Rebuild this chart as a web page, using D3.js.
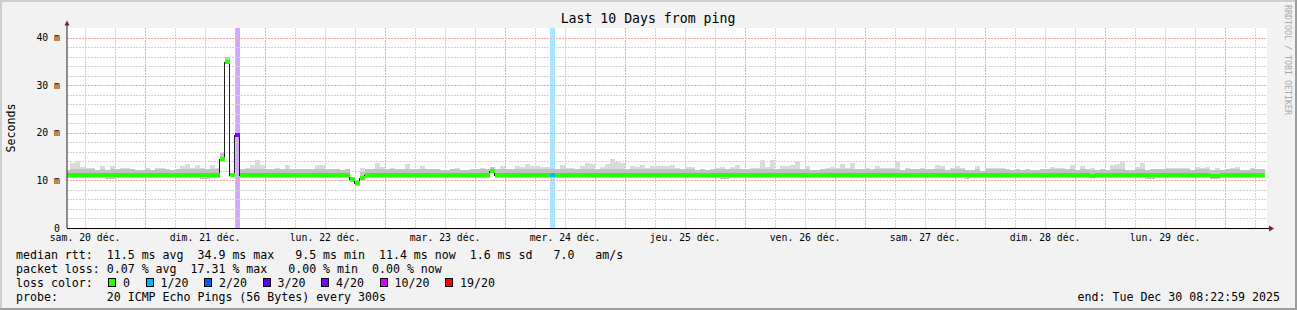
<!DOCTYPE html>
<html>
<head>
<meta charset="utf-8">
<script src="https://cdn.jsdelivr.net/npm/d3@7"></script>
<style>
  html, body { margin: 0; padding: 0; background: #f2f2f2; }
  svg { display: block; }
  text { font-family: "DejaVu Sans Mono", monospace; fill: #000; }
</style>
</head>
<body>
<svg id="chart" width="1297" height="310"></svg>
<script>
const title = "Last 10 Days from ping";
const yLabel = "Seconds";
const watermark = "RRDTOOL / TOBI OETIKER";
const startTime = new Date(2025, 11, 20, 8, 22, 59);
const endTime = new Date(2025, 11, 30, 8, 22, 59);
const firstStepEnd = new Date(2025, 11, 20, 9, 0, 0);   // hourly consolidated steps

const dayLabels = ["sam. 20 déc.", "dim. 21 déc.", "lun. 22 déc.", "mar. 23 déc.", "mer. 24 déc.",
                   "jeu. 25 déc.", "ven. 26 déc.", "sam. 27 déc.", "dim. 28 déc.", "lun. 29 déc."];
const yTicks = [0, 10, 20, 30, 40];
const yTickLabels = ["0", "10 m", "20 m", "30 m", "40 m"];

// median rtt per hour (ms)
const median = [
  11.2, 11.2, 11.2, 11.2, 11.2, 11.2, 11.2, 11.2, 11.1, 11.2, 11.2, 11.2, 11.2, 11.2, 11.2, 11.2, 11.2, 11.2, 11.2, 11.2,
  11.2, 11.1, 11.2, 11.2, 11.2, 11.2, 11.2, 11.2, 11.2, 11.2, 11.2, 14.4, 34.9, 11.2, 19.5, 11.2, 11.1, 11.2, 11.2, 11.2,
  11.2, 11.2, 11.2, 11.2, 11.2, 11.2, 11.2, 11.2, 11.2, 11.2, 11.2, 11.2, 11.2, 11.2, 11.2, 11.2, 11.2, 10.2, 9.5, 10.5,
  11.2, 11.2, 11.2, 11.2, 11.2, 11.2, 11.2, 11.2, 11.2, 11.2, 11.2, 11.2, 11.2, 11.2, 11.2, 11.2, 11.2, 11.2, 11.2, 11.2,
  11.2, 11.2, 11.2, 11.2, 11.2, 11.9, 11.2, 11.2, 11.2, 11.2, 11.2, 11.2, 11.2, 11.2, 11.2, 11.2, 11.2, 11.2, 11.2, 11.2,
  11.2, 11.2, 11.2, 11.2, 11.2, 11.2, 11.2, 11.2, 11.2, 11.2, 11.2, 11.2, 11.2, 11.2, 11.2, 11.2, 11.2, 11.2, 11.2, 11.2,
  11.2, 11.2, 11.2, 11.2, 11.2, 11.2, 11.2, 11.2, 11.2, 11.2, 11.2, 11.2, 11.2, 11.2, 11.2, 11.2, 11.2, 11.2, 11.2, 11.2,
  11.2, 11.2, 11.2, 11.2, 11.2, 11.2, 11.2, 11.2, 11.2, 11.2, 11.2, 11.2, 11.2, 11.2, 11.2, 11.2, 11.2, 11.2, 11.2, 11.2,
  11.2, 11.2, 11.2, 11.2, 11.2, 11.2, 11.2, 11.2, 11.2, 11.2, 11.2, 11.2, 11.2, 11.2, 11.2, 11.2, 11.2, 11.2, 11.2, 11.2,
  11.2, 11.2, 11.2, 11.2, 11.2, 11.2, 11.2, 11.2, 11.2, 11.2, 11.2, 11.2, 11.2, 11.2, 11.2, 11.2, 11.2, 11.2, 11.2, 11.2,
  11.2, 11.2, 11.2, 11.2, 11.2, 10.9, 11.2, 11.2, 11.2, 11.2, 11.2, 11.2, 11.2, 11.2, 11.2, 11.2, 11.2, 11.2, 11.2, 11.2,
  11.2, 11.2, 11.2, 11.2, 11.2, 11.2, 11.2, 11.2, 11.2, 11.0, 11.0, 11.2, 11.2, 11.2, 11.2, 11.2, 11.2, 11.2, 11.2, 11.2
];

// highest ping of each hour (ms)
const smokeHi = [
  12.1, 13.7, 13.9, 12.9, 12.6, 12.5, 12.25, 13.0, 12.25, 13.0, 12.4, 12.6, 12.6, 12.3, 12.2, 12.2, 12.7, 12.2, 12.7, 12.6,
  12.4, 12.25, 12.4, 13.0, 13.4, 12.7, 13.2, 12.7, 12.3, 13.3, 12.5, 16.0, 36.0, 11.5, 19.7, 12.3, 12.7, 13.2, 14.3, 13.2,
  12.3, 12.4, 12.7, 12.4, 13.2, 12.4, 12.3, 12.4, 12.4, 12.3, 13.2, 13.2, 12.4, 12.3, 12.3, 12.2, 12.3, 10.8, 10.1, 12.5,
  12.3, 12.3, 13.65, 12.75, 12.3, 12.6, 12.45, 12.3, 13.45, 12.3, 12.3, 13.0, 12.3, 12.4, 12.4, 12.2, 12.2, 12.3, 12.6, 12.2,
  12.2, 12.3, 12.3, 12.6, 12.3, 12.8, 12.3, 13.0, 12.3, 12.3, 13.0, 12.8, 13.45, 13.0, 13.0, 12.75, 12.75, 12.3, 12.3, 13.2,
  12.6, 12.6, 12.3, 13.0, 13.6, 13.45, 12.3, 12.9, 13.45, 14.5, 13.9, 13.7, 12.3, 13.0, 12.9, 13.15, 12.6, 13.0, 13.0, 13.0,
  13.0, 13.3, 12.5, 12.3, 12.8, 12.8, 12.2, 12.4, 12.25, 12.45, 12.6, 12.8, 12.45, 12.9, 13.2, 12.3, 12.45, 12.6, 12.6, 14.3,
  12.9, 14.3, 12.45, 13.1, 13.1, 13.2, 14.1, 12.3, 13.0, 12.2, 12.2, 12.4, 12.6, 12.8, 12.6, 13.45, 12.6, 13.65, 12.3, 12.45,
  12.6, 12.3, 13.0, 12.6, 12.6, 12.6, 13.85, 12.2, 12.6, 12.4, 12.3, 12.6, 12.3, 12.4, 13.2, 13.0, 12.2, 12.6, 13.0, 12.6,
  12.2, 12.2, 13.0, 12.05, 12.5, 12.5, 12.5, 12.5, 12.3, 12.2, 12.4, 12.2, 12.4, 12.2, 12.2, 12.3, 12.4, 12.8, 12.6, 12.6,
  12.4, 13.2, 12.2, 13.0, 12.4, 12.6, 12.2, 12.4, 12.2, 13.2, 13.45, 13.85, 12.2, 12.2, 12.8, 13.65, 12.2, 12.4, 12.4, 12.4,
  12.6, 12.6, 12.6, 12.6, 12.6, 12.2, 12.8, 12.6, 12.8, 12.2, 12.6, 12.2, 12.4, 12.6, 12.8, 12.2, 12.2, 12.6, 12.4, 12.4
];

// lowest ping of each hour (ms)
const smokeLo = [
  10.5, 10.5, 10.5, 10.5, 10.5, 10.5, 10.5, 10.5, 10.3, 10.3, 10.4, 10.5, 10.5, 10.5, 10.5, 10.5, 10.5, 10.5, 10.5, 10.5,
  10.5, 10.5, 10.5, 10.5, 10.5, 10.5, 10.5, 10.3, 10.3, 10.5, 10.5, 14.0, 34.5, 10.9, 19.3, 10.5, 10.5, 10.5, 10.5, 10.5,
  10.5, 10.5, 10.5, 10.5, 10.5, 10.5, 10.5, 10.5, 10.5, 10.5, 10.5, 10.5, 10.5, 10.5, 10.5, 10.5, 10.5, 9.7, 8.8, 10.1,
  10.5, 10.5, 10.5, 10.5, 10.5, 10.5, 10.5, 10.5, 10.5, 10.5, 10.5, 10.5, 10.5, 10.5, 10.5, 10.5, 10.5, 10.5, 10.5, 10.5,
  10.5, 10.5, 10.5, 10.5, 10.5, 11.6, 10.5, 10.5, 10.5, 10.5, 10.5, 10.5, 10.5, 10.5, 10.5, 10.5, 10.5, 10.5, 10.5, 10.5,
  10.5, 10.5, 10.5, 10.5, 10.5, 10.5, 10.5, 10.5, 10.5, 10.5, 10.5, 10.5, 10.5, 10.5, 10.5, 10.5, 10.5, 10.5, 10.5, 10.5,
  10.5, 10.5, 10.5, 10.5, 10.5, 10.5, 10.5, 10.5, 10.5, 10.5, 10.5, 10.3, 10.3, 10.5, 10.5, 10.5, 10.5, 10.5, 10.5, 10.5,
  10.5, 10.5, 10.5, 10.5, 10.5, 10.5, 10.5, 10.5, 10.5, 10.5, 10.5, 10.5, 10.5, 10.5, 10.5, 10.5, 10.5, 10.5, 10.5, 10.5,
  10.5, 10.5, 10.5, 10.5, 10.5, 10.5, 10.5, 10.5, 10.5, 10.5, 10.5, 10.5, 10.5, 10.5, 10.5, 10.5, 10.5, 10.5, 10.5, 10.5,
  10.3, 10.5, 10.5, 10.5, 10.5, 10.5, 10.5, 10.5, 10.5, 10.5, 10.5, 10.5, 10.5, 10.5, 10.5, 10.5, 10.5, 10.5, 10.5, 10.5,
  10.5, 10.5, 10.5, 10.5, 10.5, 10.5, 10.5, 10.5, 10.5, 10.5, 10.5, 10.5, 10.5, 10.5, 10.5, 10.5, 10.3, 10.3, 10.5, 10.5,
  10.5, 10.5, 10.5, 10.5, 10.5, 10.5, 10.5, 10.5, 10.5, 10.3, 10.3, 10.5, 10.5, 10.5, 10.5, 10.5, 10.5, 10.5, 10.5, 10.5
];

// average lost pings (of 20) per hour, only non-zero hours listed by index
const lossHours = [34, 97];
const lossValues = [3.46, 0.3];

const lossLevels = [0, 1, 2, 3, 4, 10, 19];
const lossLabels = ["0", "1/20", "2/20", "3/20", "4/20", "10/20", "19/20"];
const lossColors = ["#26ff00", "#00b8ff", "#0059ff", "#5e00ff", "#7e00ff", "#dd00ff", "#ff0000"];

const legendLines = [
  "median rtt:  11.5 ms avg  34.9 ms max   9.5 ms min  11.4 ms now  1.6 ms sd   7.0   am/s",
  "packet loss: 0.07 % avg  17.31 % max   0.00 % min  0.00 % now",
  "loss color:",
  "probe:       20 ICMP Echo Pings (56 Bytes) every 300s"
];
const endLabel = "end: Tue Dec 30 08:22:59 2025";

const svg = d3.select("#chart");
const W = 1297, H = 310;
const plot = { left: 67, right: 1267, top: 28, bottom: 228 };

const x = d3.scaleTime().domain([startTime, endTime]).range([plot.left, plot.right]);
const y = d3.scaleLinear().domain([0, 42]).range([plot.bottom, plot.top]);
const px = t => Math.round(x(t));
const py = v => Math.round(y(v));

function lossColor(l) {
  const k = lossLevels.findIndex(t => l <= t);
  return lossColors[k < 0 ? lossColors.length - 1 : k];
}

// frame
svg.append("rect").attr("width", W).attr("height", H).attr("fill", "#f2f2f2");
svg.append("rect").attr("x", 0).attr("y", 0).attr("width", W).attr("height", 2).attr("fill", "#cfcfcf");
svg.append("rect").attr("x", 0).attr("y", 0).attr("width", 2).attr("height", H).attr("fill", "#cfcfcf");
svg.append("rect").attr("x", 0).attr("y", H - 2).attr("width", W).attr("height", 2).attr("fill", "#9e9e9e");
svg.append("rect").attr("x", W - 2).attr("y", 0).attr("width", 2).attr("height", H).attr("fill", "#9e9e9e");

// canvas
svg.append("rect")
  .attr("x", plot.left).attr("y", plot.top)
  .attr("width", plot.right - plot.left).attr("height", plot.bottom - plot.top)
  .attr("fill", "#fff");

// steps
const steps = median.map((m, i) => {
  const end = d3.timeHour.offset(firstStepEnd, i);
  const start = d3.timeHour.offset(end, -1);
  return { i, start: start < startTime ? startTime : start, end, m, hi: smokeHi[i], lo: smokeLo[i], loss: 0 };
});
lossHours.forEach((h, k) => { steps[h].loss = lossValues[k]; });

// loss background bars
svg.append("g").attr("shape-rendering", "crispEdges").selectAll("rect")
  .data(steps.filter(d => d.loss > 0))
  .join("rect")
  .attr("x", d => px(d.start)).attr("y", plot.top)
  .attr("width", d => px(d.end) - px(d.start)).attr("height", plot.bottom - plot.top)
  .attr("fill", d => lossColor(d.loss)).attr("fill-opacity", 0.35);

// grid
const grid = svg.append("g").attr("shape-rendering", "crispEdges");
const minorY = d3.range(2, 42, 2).filter(v => v % 10 !== 0);
const majorY = yTicks.filter(v => v > 0);
const sixHours = d3.timeHour.every(6).range(startTime, endTime).filter(t => t.getHours() !== 0);
const days = d3.timeDay.range(startTime, endTime);
const minorCol = "#d2d2d2", majorCol = "#f4a6a6", dash = "2,1";

grid.append("g").selectAll("line").data(minorY).join("line")
  .attr("x1", plot.left).attr("x2", plot.right)
  .attr("y1", d => py(d) + 0.5).attr("y2", d => py(d) + 0.5)
  .attr("stroke", minorCol).attr("stroke-dasharray", dash);
grid.append("g").selectAll("line").data(sixHours).join("line")
  .attr("x1", d => px(d) + 0.5).attr("x2", d => px(d) + 0.5)
  .attr("y1", plot.top).attr("y2", plot.bottom)
  .attr("stroke", minorCol).attr("stroke-dasharray", dash);
grid.append("g").selectAll("line").data(majorY).join("line")
  .attr("x1", plot.left).attr("x2", plot.right)
  .attr("y1", d => py(d) + 0.5).attr("y2", d => py(d) + 0.5)
  .attr("stroke", majorCol).attr("stroke-dasharray", dash);
grid.append("g").selectAll("line").data(days).join("line")
  .attr("x1", d => px(d) + 0.5).attr("x2", d => px(d) + 0.5)
  .attr("y1", plot.top).attr("y2", plot.bottom)
  .attr("stroke", majorCol).attr("stroke-dasharray", dash);

// smoke
const smoke = svg.append("g").attr("shape-rendering", "crispEdges");
smoke.selectAll(".outer").data(steps).join("rect")
  .attr("x", d => px(d.start)).attr("width", d => px(d.end) - px(d.start))
  .attr("y", d => py(d.hi)).attr("height", d => py(d.lo) - py(d.hi))
  .attr("fill", "#dadada");
smoke.selectAll(".inner").data(steps).join("rect")
  .attr("x", d => px(d.start)).attr("width", d => px(d.end) - px(d.start))
  .attr("y", d => Math.max(py(d.hi), py(d.m) - 6))
  .attr("height", d => Math.max(0, Math.min(py(d.lo), py(d.m) + 4) - Math.max(py(d.hi), py(d.m) - 6)))
  .attr("fill", "#c2c2c2");

// median line (dark step line, visible at the jumps)
const stepPts = steps.map(d => [px(d.start) - 0.5, py(d.m) + 0.5]);
const last = steps[steps.length - 1];
stepPts.push([px(last.end) - 0.5, py(last.m) + 0.5]);
svg.append("path")
  .attr("d", d3.line().curve(d3.curveStepAfter)(stepPts))
  .attr("fill", "none").attr("stroke", "#202020").attr("stroke-width", 1)
  .attr("shape-rendering", "crispEdges");

// median band coloured by loss
svg.append("g").attr("shape-rendering", "crispEdges")
  .selectAll("rect").data(steps).join("rect")
  .attr("x", d => px(d.start)).attr("width", d => px(d.end) - px(d.start))
  .attr("y", d => py(d.m) - 2).attr("height", 4)
  .attr("fill", d => lossColor(d.loss));

// axes
svg.append("line").attr("x1", plot.left).attr("x2", plot.left)
  .attr("y1", plot.bottom).attr("y2", 24).attr("stroke", "#202020");
svg.append("line").attr("x1", plot.left).attr("x2", 1270)
  .attr("y1", plot.bottom + 0.5).attr("y2", plot.bottom + 0.5).attr("stroke", "#000");
svg.append("path").attr("d", "M64.5,25.5L67,20.5L69.5,25.5Z").attr("fill", "#7f1f1f");
svg.append("path").attr("d", "M1269,225.5L1274,228.5L1269,231.5Z").attr("fill", "#7f1f1f");

// y tick labels
svg.append("g").selectAll("text").data(yTicks).join("text")
  .attr("x", 60).attr("y", d => y(d) + 3.5)
  .attr("text-anchor", "end").attr("font-size", "9.8px")
  .text((d, i) => yTickLabels[i]);

// x tick labels at noon of each day
const noons = d3.timeDay.range(d3.timeDay.floor(startTime), endTime).map(d => d3.timeHour.offset(d, 12));
svg.append("g").selectAll("text").data(noons).join("text")
  .attr("x", d => x(d)).attr("y", 241)
  .attr("text-anchor", "middle").attr("font-size", "9.8px")
  .text((d, i) => dayLabels[i]);

// titles
svg.append("text").attr("x", 648).attr("y", 23).attr("text-anchor", "middle")
  .attr("font-size", "13.2px").text(title);
svg.append("text").attr("transform", "translate(15,128) rotate(-90)")
  .attr("text-anchor", "middle").attr("font-size", "11.6px").text(yLabel);
svg.append("text").attr("transform", "translate(1285,5) rotate(90)")
  .attr("font-size", "8.3px").style("fill", "#a8a8a8").text(watermark);

// legend
const lineY = [258.5, 272.5, 286.5, 300.5];
svg.append("g").selectAll("text").data(legendLines).join("text")
  .attr("x", 16).attr("y", (d, i) => lineY[i])
  .attr("font-size", "11.6px").attr("xml:space", "preserve")
  .style("white-space", "pre")
  .text(d => d);

const charW = 7.0;
let cursor = 16 + 13 * charW;
const lossLegend = svg.append("g");
lossLabels.forEach((lab, k) => {
  lossLegend.append("rect")
    .attr("x", Math.round(cursor + 1) + 0.5).attr("y", 278.5)
    .attr("width", 7).attr("height", 8)
    .attr("fill", lossColors[k]).attr("stroke", "#000");
  const tx = cursor + 16;
  lossLegend.append("text").attr("x", tx).attr("y", lineY[2])
    .attr("font-size", "11.6px").text(lab);
  cursor = tx + lab.length * charW + 14.5;
});

svg.append("text").attr("x", 1280).attr("y", lineY[3]).attr("text-anchor", "end")
  .attr("font-size", "11.6px").text(endLabel);
</script>
</body>
</html>
